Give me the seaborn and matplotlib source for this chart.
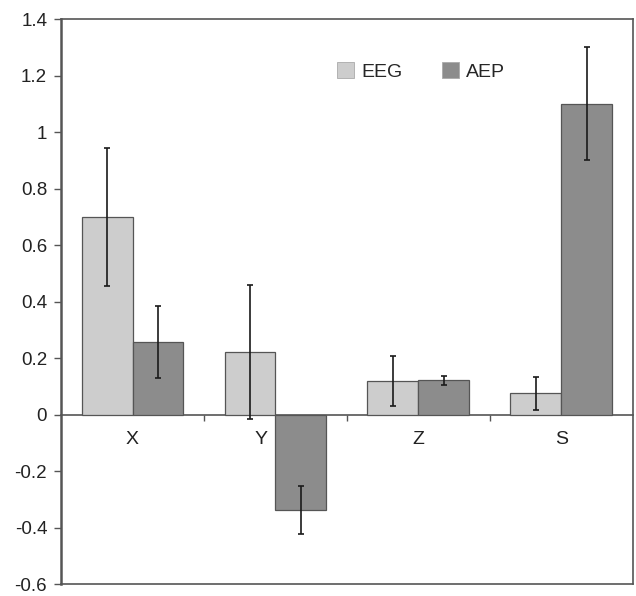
import numpy as np
import pandas as pd
import matplotlib
matplotlib.use("Agg")
import matplotlib.pyplot as plt
import matplotlib.transforms as mtransforms
import seaborn as sns

# Mean values and error magnitudes per condition
categories = ["X", "Y", "Z", "S"]
groups = ["EEG", "AEP"]
eeg_values = [0.70, 0.223, 0.118, 0.075]
aep_values = [0.256, -0.338, 0.121, 1.10]
eeg_errors = [0.245, 0.237, 0.088, 0.058]
aep_errors = [0.127, 0.085, 0.015, 0.200]
y_ticks = [-0.6, -0.4, -0.2, 0, 0.2, 0.4, 0.6, 0.8, 1, 1.2, 1.4]
y_tick_labels = ["-0.6", "-0.4", "-0.2", "0", "0.2", "0.4", "0.6", "0.8", "1", "1.2", "1.4"]

df = pd.DataFrame({
    "category": categories * 2,
    "group": [groups[0]] * len(categories) + [groups[1]] * len(categories),
    "value": eeg_values + aep_values,
    "err": eeg_errors + aep_errors,
})

sns.set_style("white")
plt.rcParams["font.family"] = ["Liberation Sans", "DejaVu Sans"]

fig = plt.figure(figsize=(6.36, 5.96), dpi=100)
ax = fig.add_axes([0.096, 0.02, 0.899, 0.948])

palette = {"EEG": "#cdcdcd", "AEP": "#8c8c8c"}
sns.barplot(data=df, x="category", y="value", hue="group", order=categories,
            hue_order=groups, palette=palette, width=0.713, errorbar=None,
            edgecolor="#555555", linewidth=0.9, saturation=1, legend=True, ax=ax)

# error bars at the centre of each drawn bar
for container, grp in zip(ax.containers, groups):
    sub = df[df["group"] == grp].set_index("category").loc[categories]
    xs = [p.get_x() + p.get_width() / 2 for p in container.patches]
    ax.errorbar(xs, sub["value"], yerr=sub["err"], fmt="none", ecolor="#1a1a1a",
                elinewidth=1.2, capsize=2.3, capthick=1.2, zorder=5)

ax.set_ylim(-0.6, 1.4)
ax.set_xlim(-0.5, len(categories) - 0.5)
ax.set_yticks(y_ticks)
ax.set_yticklabels(y_tick_labels, fontsize=13.5, color="#222222")
ax.tick_params(axis="y", direction="out", length=5, width=1, color="#555555", pad=5, left=True)
ax.set_xticks([])
ax.set_xlabel("")
ax.set_ylabel("")

for s in ax.spines.values():
    s.set_color("#555555")
    s.set_linewidth(1.2)
ax.spines["left"].set_linewidth(1.8)

# category axis running along the zero line, with ticks between groups
zero_frac = (0 - (-0.6)) / (1.4 - (-0.6))
sec = ax.secondary_xaxis(zero_frac)
sec.spines["bottom"].set_color("#555555")
sec.spines["bottom"].set_linewidth(1.2)
sec.set_xticks(np.arange(1, len(categories)) - 0.5)
sec.set_xticklabels([""] * (len(categories) - 1))
sec.tick_params(axis="x", direction="out", length=4, width=1, color="#555555")

# category names under the zero line; "Y" sits left of its negative bar
for i, cat in enumerate(categories):
    dx = -14 if cat == "Y" else 0
    tr = mtransforms.offset_copy(ax.transData, fig=fig, x=dx, y=-25, units="dots")
    ax.text(i, 0, cat, transform=tr, ha="center", va="center", fontsize=14,
            color="#222222", zorder=6)

leg = ax.legend(loc="upper left", bbox_to_anchor=(0.469, 0.938), ncol=2, frameon=False,
                fontsize=14, handlelength=0.88, handleheight=0.88, columnspacing=2.05,
                handletextpad=0.36, borderaxespad=0)
for h in leg.legend_handles:
    h.set_edgecolor("#aaaaaa")
    h.set_linewidth(0.6)

fig.savefig("out.png", dpi=100, facecolor="white")
